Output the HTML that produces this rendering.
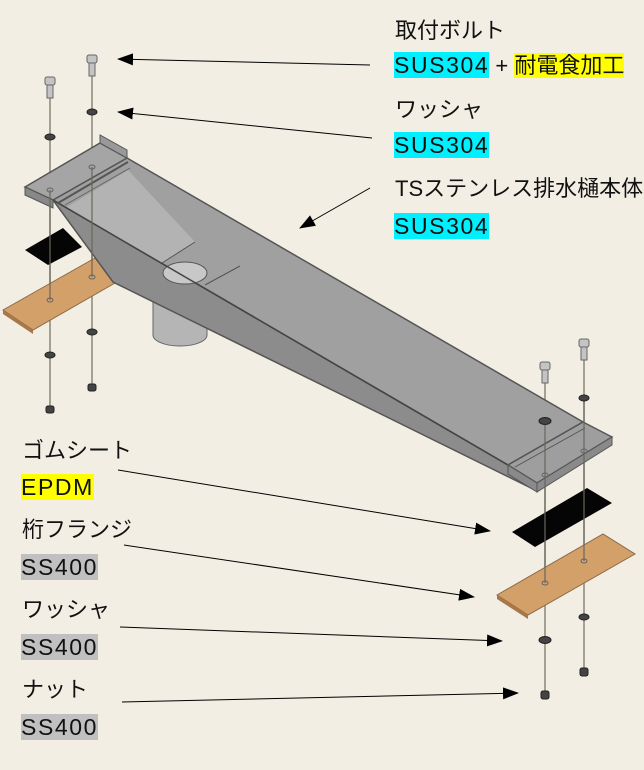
<!DOCTYPE html>
<html><head><meta charset="utf-8"><style>
body{margin:0;background:#f2eee3;}
.t{position:absolute;font-family:"Liberation Sans","Noto Sans CJK JP",sans-serif;font-size:22px;color:#111;white-space:nowrap;line-height:30px}
.c{background:#00f0ff}.y{background:#ffff00}.g{background:#c0c0c0}
.l{font-size:23px;letter-spacing:1.6px}
</style></head><body>
<div style="position:relative;width:644px;height:770px;overflow:hidden">
<svg width="644" height="770" style="position:absolute;left:0;top:0">
<defs>
<marker id="b" markerWidth="16" markerHeight="12" refX="15" refY="6" orient="auto" markerUnits="userSpaceOnUse"><path d="M0,0L16,6L0,12z" fill="#000"/></marker></defs>
<g stroke="#8a8578" stroke-width="1.5">
<line x1="50" y1="95" x2="50" y2="410"/><line x1="92" y1="72" x2="92" y2="388"/>
<line x1="545" y1="380" x2="545" y2="695"/><line x1="584" y1="357" x2="584" y2="672"/>
</g>
<polygon points="25,250 63,228 82,247 48,265" fill="#050505"/>
<polygon points="3,310 95,258 115,283 33,330" fill="#d3a06a" stroke="#8a6a45"/>
<polygon points="3,310 33,330 33,334 3,314" fill="#a8784a"/>
<path d="M153,275 L153,335 A27,11 0 0 0 207,335 L207,275 Z" fill="#b5b5b5" stroke="#666"/>
<polygon points="53,200 508,465 535,490 113,282" fill="#8c8c8c" stroke="#555" stroke-width="1.5"/>
<polygon points="127,158 583,422 508,465 53,200" fill="#a0a0a0" stroke="#555" stroke-width="1.5"/>
<polygon points="67,207 128,170 195,242 162,263" fill="#b3b3b3"/>
<ellipse cx="185" cy="273" rx="22" ry="11" fill="#c8c8c8" stroke="#555"/>
<line x1="162" y1="263" x2="195" y2="242" stroke="#555"/>
<line x1="205" y1="285" x2="240" y2="266" stroke="#555"/>
<line x1="53" y1="200" x2="508" y2="465" stroke="#444" stroke-width="1.5"/>
<polygon points="25,187 100,143 127,158 53,200" fill="#a5a5a5" stroke="#555" stroke-width="1.5"/>
<polygon points="25,187 53,200 53,208 25,195" fill="#888" stroke="#555"/>
<polygon points="100,143 127,158 127,150 100,135" fill="#999" stroke="#555"/>
<line x1="58" y1="203" x2="128" y2="162" stroke="#555" stroke-width="2"/>
<line x1="65" y1="205" x2="130" y2="168" stroke="#666"/>
<polygon points="583,422 612,437 537,483 508,465" fill="#9e9e9e" stroke="#555" stroke-width="1.5"/>
<polygon points="537,483 612,437 612,445 537,492" fill="#8a8a8a" stroke="#555"/>
<polygon points="508,465 537,483 537,492 508,474" fill="#8a8a8a" stroke="#555"/>
<line x1="515" y1="467" x2="585" y2="428" stroke="#555"/>
<polygon points="512,532 587,488 612,503 535,547" fill="#050505"/>
<polygon points="497,595 603,534 635,554 528,615" fill="#d3a06a" stroke="#8a6a45"/>
<polygon points="497,595 528,615 528,619 497,599" fill="#a8784a"/>
<g stroke="#6a665c" stroke-width="1.2">
<line x1="50" y1="190" x2="50" y2="300"/><line x1="92" y1="167" x2="92" y2="277"/>
<line x1="545" y1="420" x2="545" y2="583"/><line x1="584" y1="398" x2="584" y2="561"/>
</g>
<g fill="#c4c4c4" stroke="#666">
<rect x="47" y="84" width="6" height="14"/><rect x="45" y="77" width="10" height="8" rx="2"/>
<rect x="89" y="62" width="6" height="14"/><rect x="87" y="55" width="10" height="8" rx="2"/>
<rect x="542" y="369" width="6" height="14"/><rect x="540" y="362" width="10" height="8" rx="2"/>
<rect x="581" y="346" width="6" height="14"/><rect x="579" y="339" width="10" height="8" rx="2"/>
</g>
<g fill="#444" stroke="#222">
<ellipse cx="50" cy="137" rx="5" ry="3"/><ellipse cx="92" cy="112" rx="5" ry="3"/>
<ellipse cx="50" cy="355" rx="5" ry="3"/><ellipse cx="92" cy="332" rx="5" ry="3"/>
<ellipse cx="545" cy="421" rx="6" ry="3.5"/><ellipse cx="584" cy="398" rx="5" ry="3"/>
<ellipse cx="545" cy="640" rx="6" ry="3.5"/><ellipse cx="584" cy="617" rx="5" ry="3"/>
<rect x="46" y="406" width="8" height="7" rx="2"/><rect x="88" y="384" width="8" height="7" rx="2"/>
<rect x="541" y="691" width="8" height="8" rx="2"/><rect x="580" y="668" width="8" height="8" rx="2"/>
</g>
<g fill="none" stroke="#666"><ellipse cx="50" cy="190" rx="3" ry="2"/><ellipse cx="92" cy="167" rx="3" ry="2"/>
<ellipse cx="50" cy="300" rx="3" ry="2"/><ellipse cx="92" cy="277" rx="3" ry="2"/>
<ellipse cx="545" cy="475" rx="3" ry="2"/><ellipse cx="584" cy="451" rx="3" ry="2"/>
<ellipse cx="545" cy="583" rx="3" ry="2"/><ellipse cx="584" cy="561" rx="3" ry="2"/></g>
<g stroke="#000" stroke-width="1">
<line x1="370" y1="65" x2="118" y2="59" marker-end="url(#b)"/>
<line x1="372" y1="138" x2="118" y2="112" marker-end="url(#b)"/>
<line x1="370" y1="188" x2="300" y2="228" marker-end="url(#b)"/>
<line x1="118" y1="470" x2="490" y2="531" marker-end="url(#b)"/>
<line x1="124" y1="545" x2="474" y2="597" marker-end="url(#b)"/>
<line x1="120" y1="627" x2="502" y2="641" marker-end="url(#b)"/>
<line x1="122" y1="702" x2="518" y2="693" marker-end="url(#b)"/>
</g>
</svg>
<div class="t" style="left:395px;top:16px">取付ボルト</div>
<div class="t" style="left:394px;top:50px"><span class="c l">SUS304</span> + <span class="y">耐電食加工</span></div>
<div class="t" style="left:395px;top:95px">ワッシャ</div>
<div class="t" style="left:394px;top:130px"><span class="c l">SUS304</span></div>
<div class="t" style="left:395px;top:174px">TSステンレス排水樋本体</div>
<div class="t" style="left:394px;top:211px"><span class="c l">SUS304</span></div>
<div class="t" style="left:22px;top:436px">ゴムシート</div>
<div class="t" style="left:21px;top:472px"><span class="y l">EPDM</span></div>
<div class="t" style="left:22px;top:515px">桁フランジ</div>
<div class="t" style="left:21px;top:552px"><span class="g l">SS400</span></div>
<div class="t" style="left:22px;top:595px">ワッシャ</div>
<div class="t" style="left:21px;top:632px"><span class="g l">SS400</span></div>
<div class="t" style="left:22px;top:675px">ナット</div>
<div class="t" style="left:21px;top:712px"><span class="g l">SS400</span></div>
</div>
</body></html>
